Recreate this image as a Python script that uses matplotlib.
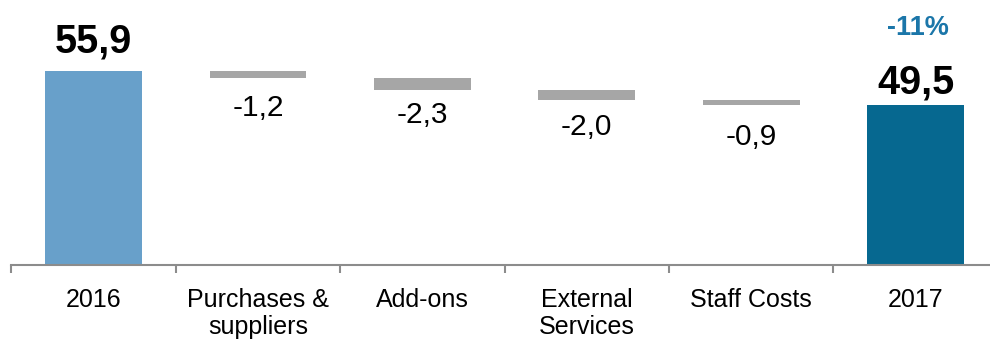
import matplotlib
matplotlib.use("Agg")
import matplotlib.pyplot as plt
from matplotlib.ticker import FixedLocator, NullFormatter

# Bridge of the result from 2016 to 2017
categories = ["2016", "Purchases &\nsuppliers", "Add-ons", "External\nServices", "Staff Costs", "2017"]
start_total = 55.9
changes = [-1.2, -2.3, -2.0, -0.9]
end_total = 49.5
change_pct = "-11%"

plt.rcParams["font.family"] = ["Liberation Sans", "DejaVu Sans"]

C_START = "#68A0CA"
C_END = "#066890"
C_STEP = "#A6A6A6"
C_AXIS = "#8C8C8C"
C_PCT = "#1B76A9"


def fmt(v):
    return f"{v:.1f}".replace(".", ",")


fig = plt.figure(figsize=(9.9, 3.44), dpi=100)
ax = fig.add_axes([11.4 / 990, 79.5 / 344, 986.4 / 990, 264.5 / 344])
ax.set_xlim(-0.5, 5.5)
ax.set_ylim(19.5, 69.3)

bar_w = 0.59
x = list(range(len(categories)))

# opening and closing totals
ax.bar(x[0], start_total, width=bar_w, color=C_START, zorder=2)
ax.bar(x[-1], end_total, width=bar_w, color=C_END, zorder=2)

ax.annotate(fmt(start_total), (x[0], start_total), xytext=(0, 13.7),
            textcoords="offset points", ha="center", va="baseline",
            fontsize=28.5, fontweight="bold", color="black")
ax.annotate(fmt(end_total), (x[-1], end_total), xytext=(0, 8.6),
            textcoords="offset points", ha="center", va="baseline",
            fontsize=28.5, fontweight="bold", color="black")
ax.annotate(change_pct, (x[-1], end_total), xytext=(1.5, 50.4),
            textcoords="offset points", ha="center", va="baseline",
            fontsize=19.5, fontweight="bold", color=C_PCT)

# floating decrement bars
level = start_total
for xi, d in zip(x[1:-1], changes):
    ax.bar(xi, -d, bottom=level + d, width=bar_w, color=C_STEP, zorder=2)
    ax.annotate(fmt(d), (xi, level), xytext=(0, -32.4),
                textcoords="offset points", ha="center", va="baseline",
                fontsize=21.5, color="black")
    level += d

# axis styling
for s in ("left", "top", "right"):
    ax.spines[s].set_visible(False)
ax.spines["bottom"].set_color(C_AXIS)
ax.spines["bottom"].set_linewidth(1.5)
ax.set_yticks([])

ax.set_xticks(x)
ax.set_xticklabels(categories, fontsize=18, color="black", linespacing=1.15)
ax.tick_params(axis="x", which="major", length=0, pad=17)
ax.xaxis.set_minor_locator(FixedLocator([i - 0.5 for i in range(len(categories) + 1)]))
ax.xaxis.set_minor_formatter(NullFormatter())
ax.tick_params(axis="x", which="minor", length=6, width=1.5, color=C_AXIS, direction="out")

fig.savefig("out.png", dpi=100)
